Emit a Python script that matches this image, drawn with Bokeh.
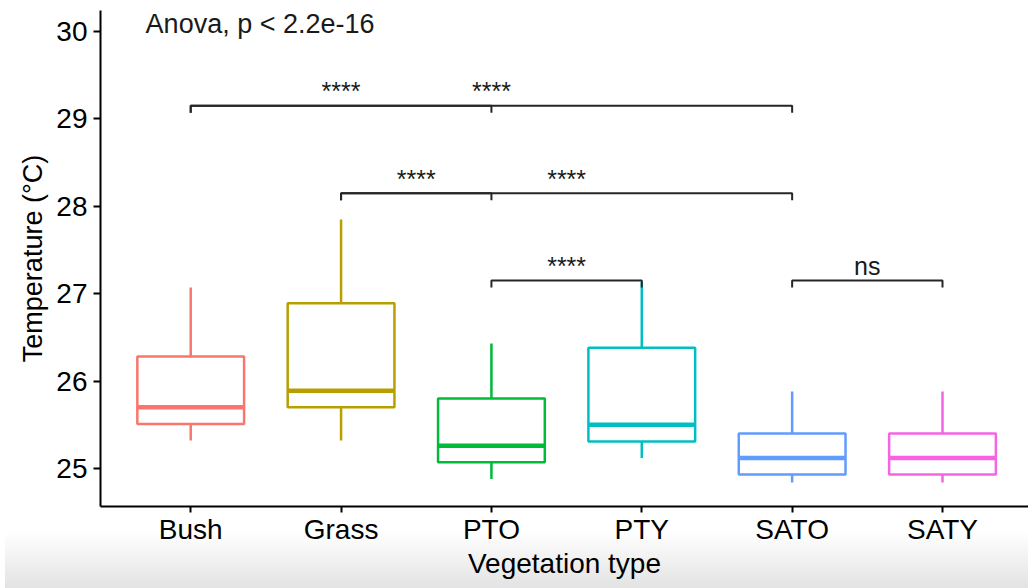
from bokeh.plotting import figure
from bokeh.models import Range1d, FixedTicker, ColumnDataSource
from bokeh.core.properties import value
from bokeh.embed import file_html
from bokeh.resources import INLINE

# ---------------- data ----------------
categories = ["Bush", "Grass", "PTO", "PTY", "SATO", "SATY"]
colors = ["#F8766D", "#B79F00", "#00BA38", "#00BFC4", "#619CFF", "#F564E3"]
whisker_low = [25.32, 25.32, 24.88, 25.12, 24.84, 24.84]
q1 = [25.51, 25.70, 25.07, 25.31, 24.93, 24.93]
median = [25.70, 25.89, 25.26, 25.50, 25.12, 25.12]
q3 = [26.28, 26.89, 25.80, 26.38, 25.40, 25.40]
whisker_high = [27.07, 27.85, 26.43, 27.13, 25.88, 25.88]

y_ticks = [25, 26, 27, 28, 29, 30]

comp_a = ["Bush", "Bush", "Grass", "Grass", "PTO", "SATO"]
comp_b = ["PTO", "SATO", "PTO", "SATO", "PTY", "SATY"]
comp_y = [29.15, 29.15, 28.15, 28.15, 27.15, 27.15]
comp_label = ["****", "****", "****", "****", "****", "ns"]

anova_label = "Anova, p < 2.2e-16"
anova_x = 0.70
anova_y = 30.086

x_title = "Vegetation type"
y_title = "Temperature (°C)"

# ---------------- style constants ----------------
FONT = "Liberation Sans"
BOX_W = 0.71
TIP = 0.08
LABEL_DY = 0.165

positions = list(range(1, len(categories) + 1))
pos = dict(zip(categories, positions))

p = figure(width=1028, height=588, output_backend="svg", toolbar_location=None,
           x_range=Range1d(0.4, 6.572), y_range=Range1d(24.565, 30.24),
           min_border_left=100, min_border_right=0, min_border_top=10,
           min_border_bottom=82)
p.outline_line_color = None
p.xgrid.visible = False
p.ygrid.visible = False
p.background_fill_color = "white"
p.border_fill_alpha = 0
p.styles = {"background": "linear-gradient(to right, white 0px, white 5px, transparent 5px), "
                          "linear-gradient(to bottom, white 0px, white 532px, #e3e3e3 588px)"}

# boxes
hw = BOX_W / 2
src = ColumnDataSource(dict(
    x=positions,
    left=[x - hw for x in positions],
    right=[x + hw for x in positions],
    lo=whisker_low, q1=q1, med=median, q3=q3, hi=whisker_high, color=colors))

p.segment(x0="x", y0="q3", x1="x", y1="hi", line_color="color", line_width=2.5, source=src)
p.segment(x0="x", y0="lo", x1="x", y1="q1", line_color="color", line_width=2.5, source=src)
p.quad(left="left", right="right", bottom="q1", top="q3", fill_color="white",
       line_color="color", line_width=2.5, source=src)
p.segment(x0="left", y0="med", x1="right", y1="med", line_color="color",
          line_width=4.5, source=src)

# significance brackets
xs, ys, lx, ly = [], [], [], []
for a, b, y in zip(comp_a, comp_b, comp_y):
    xa, xb = pos[a], pos[b]
    xs.append([xa, xa, xb, xb])
    ys.append([y - TIP, y, y, y - TIP])
    lx.append((xa + xb) / 2)
    ly.append(y + LABEL_DY)
p.multi_line(xs=xs, ys=ys, line_color="#262626", line_width=2)
p.text(x=lx, y=ly, text=comp_label, text_align="center", text_baseline="middle",
       text_font=value(FONT), text_font_size="25px", text_color="#1a1a1a")

p.text(x=[anova_x], y=[anova_y], text=[anova_label], text_align="left",
       text_baseline="middle", text_font=value(FONT), text_font_size="27px",
       text_color="#1a1a1a")

# axes
p.xaxis.ticker = FixedTicker(ticks=positions)
p.xaxis.major_label_overrides = {x: c for x, c in zip(positions, categories)}
p.yaxis.ticker = FixedTicker(ticks=y_ticks)
p.yaxis.major_label_overrides = {t: str(t) for t in y_ticks}
p.xaxis.axis_label = x_title
p.yaxis.axis_label = y_title

for ax in (p.xaxis[0], p.yaxis[0]):
    ax.axis_line_color = "black"
    ax.axis_line_width = 2
    ax.major_tick_line_color = "black"
    ax.major_tick_line_width = 2
    ax.major_tick_in = 0
    ax.minor_tick_line_color = None
    ax.major_label_text_font = FONT
    ax.major_label_text_font_size = "28px"
    ax.major_label_text_color = "black"
    ax.axis_label_text_font = FONT
    ax.axis_label_text_font_style = "normal"
    ax.axis_label_text_color = "black"

p.xaxis.major_tick_out = 6
p.yaxis.major_tick_out = 7
p.xaxis.major_label_standoff = 1
p.xaxis.axis_label_standoff = 0
p.xaxis.axis_label_text_font_size = "28px"
p.yaxis.major_label_standoff = 6
p.yaxis.axis_label_standoff = 5
p.yaxis.axis_label_text_font_size = "27px"

open("out.html", "w").write(file_html(p, INLINE))
